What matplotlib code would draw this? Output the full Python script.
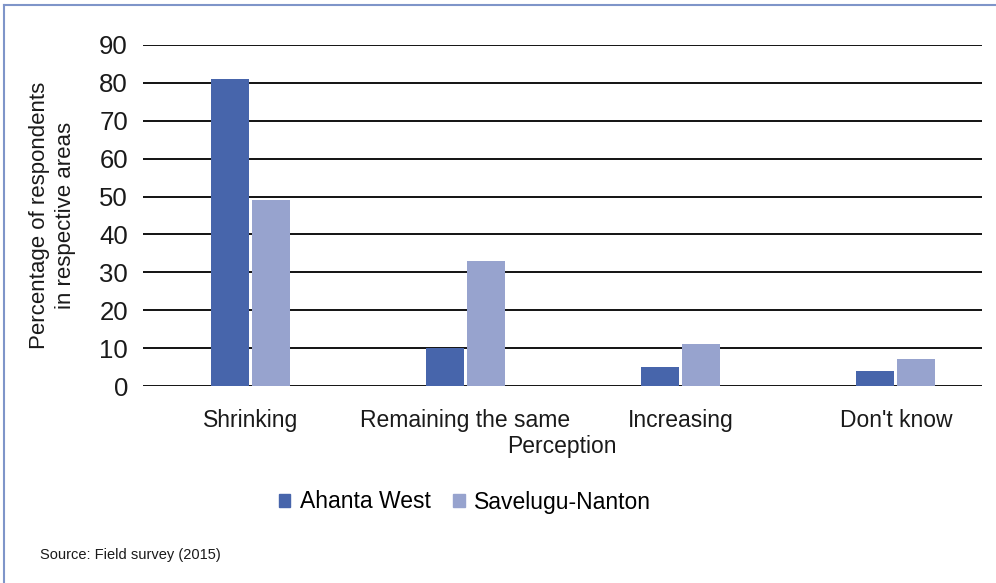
import matplotlib
matplotlib.use("Agg")
import matplotlib.pyplot as plt
import numpy as np
from matplotlib.patches import Rectangle
from matplotlib.lines import Line2D

categories = ["Shrinking", "Remaining the same", "Increasing", "Don't know"]
series_names = ["Ahanta West", "Savelugu-Nanton"]
ahanta_west = [81, 10, 5, 4]
savelugu_nanton = [49, 33, 11, 7]
y_ticks = [0, 10, 20, 30, 40, 50, 60, 70, 80, 90]
x_label = "Perception"
y_label = "Percentage of respondents\nin respective areas"
source = "Source: Field survey (2015)"

c_dark = "#4765AB"
c_light = "#97A3CE"
border = "#7F95C9"

plt.rcParams['font.family'] = ['Liberation Sans', 'DejaVu Sans']

W, H = 996, 583
fig = plt.figure(figsize=(W / 100, H / 100), dpi=100)

left, right, top, bottom = 142.5, 982, 45, 386
ax = fig.add_axes([left / W, 1 - bottom / H, (right - left) / W, (bottom - top) / H])

x = np.arange(len(categories))
bw = 38 / 215
gap = 3 / 215
ax.bar(x - bw / 2 - gap / 2, ahanta_west, bw, color=c_dark, zorder=3, label=series_names[0])
ax.bar(x + bw / 2 + gap / 2, savelugu_nanton, bw, color=c_light, zorder=3, label=series_names[1])

ax.set_xlim(-0.5, 3.5 - (1003.5 - 982) / 215)
ax.set_ylim(0, 90)
ax.set_yticks(y_ticks)
ax.set_yticklabels([str(v) for v in y_ticks], fontsize=18.5, color="#1a1a1a")
ax.set_xticks(x)
ax.set_xticklabels(categories, fontsize=16.5, color="#1a1a1a")
ax.tick_params(axis='both', length=0)
ax.tick_params(axis='y', pad=10.5)
ax.tick_params(axis='x', pad=16.5)
ax.yaxis.grid(True, color="#000000", linewidth=1.3, zorder=0)
for s in ax.spines.values():
    s.set_visible(False)
ax.set_xlabel(x_label, fontsize=16.5, color="#1a1a1a", labelpad=2)
ax.set_ylabel(y_label, fontsize=16, color="#1a1a1a", labelpad=17, linespacing=1.28)

handles = [Rectangle((0, 0), 1, 1, color=c_dark), Rectangle((0, 0), 1, 1, color=c_light)]
fig.legend(handles, series_names, loc="center", bbox_to_anchor=(465 / W, 1 - 502 / H),
           ncol=2, frameon=False, fontsize=16.5, handlelength=0.5, handleheight=0.5,
           handletextpad=0.4, columnspacing=1.0)

fig.text(40 / W, 1 - 555 / H, source, fontsize=10.5, color="#1a1a1a", va="center", ha="left")

fig.add_artist(Line2D([4 / W, 1], [1 - 5 / H, 1 - 5 / H], color=border, linewidth=1.5, transform=fig.transFigure))
fig.add_artist(Line2D([4 / W, 4 / W], [0, 1 - 5 / H], color=border, linewidth=1.5, transform=fig.transFigure))

fig.savefig("out.png", dpi=100, facecolor="white")
